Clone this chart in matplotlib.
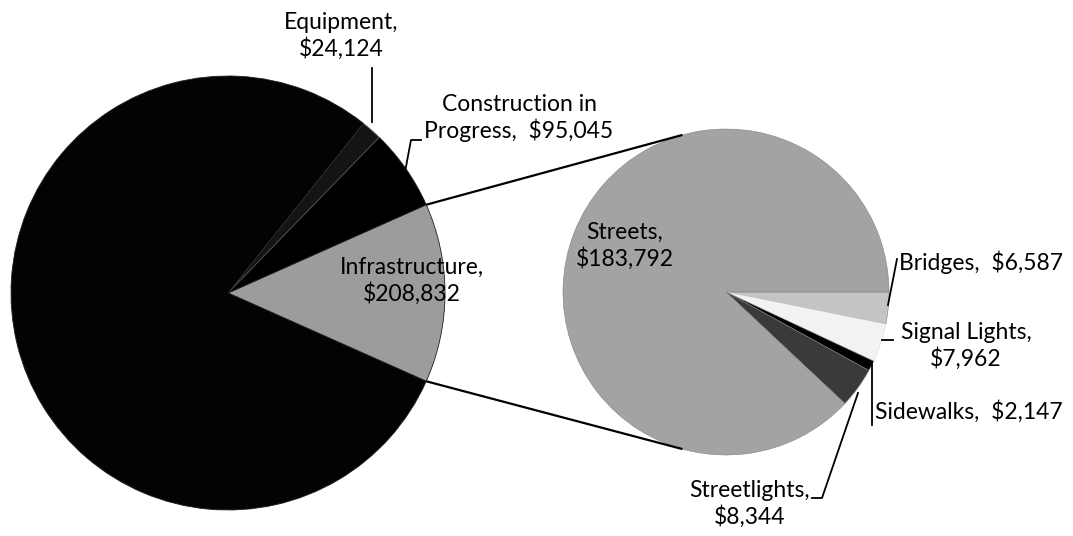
import numpy as np
import matplotlib
matplotlib.use("Agg")
import matplotlib.pyplot as plt

# main pie (the large dark slice label is unreadable in the source)
main_labels = ["Infrastructure", "Construction in Progress", "Equipment", "Other"]
main_values = [208832, 95045, 24124, 1238000]
main_colors = ["#9c9c9c", "#000000", "#141414", "#030303"]

# breakdown of infrastructure
sub_labels = ["Bridges", "Signal Lights", "Sidewalks", "Streetlights", "Streets"]
sub_values = [6587, 7962, 2147, 8344, 183792]
sub_colors = ["#c4c4c4", "#f2f2f2", "#000000", "#3a3a3a", "#a3a3a3"]

W, H = 1073, 536


def py(y):
    # pixel row (top-down) -> data y
    return H - y


fig = plt.figure(figsize=(W / 100, H / 100), dpi=100)
ax = fig.add_axes([0, 0, 1, 1])
plt.rcParams['font.family'] = ['Lato', 'DejaVu Sans']

c1, r1 = (228, py(293)), 217
c2, r2 = (726, py(292)), 163

infra_angle = main_values[0] / sum(main_values) * 360
w1, _ = ax.pie(main_values, radius=r1, center=c1, startangle=-infra_angle / 2,
               colors=main_colors, counterclock=True,
               wedgeprops=dict(linewidth=0.6, edgecolor="#202020"))
w1[2].set_edgecolor("#555555")
w2, _ = ax.pie(sub_values, radius=r2, center=c2, startangle=0,
               colors=sub_colors, counterclock=False,
               wedgeprops=dict(linewidth=0.4, edgecolor="#808080"))
w2[1].set_edgecolor("#dddddd")

# connector lines between the two pies
for th1, th2 in [(w1[0].theta2, 105.5), (w1[0].theta1, -105.5)]:
    a, b = np.radians(th1), np.radians(th2)
    ax.plot([c1[0] + r1 * np.cos(a), c2[0] + r2 * np.cos(b)],
            [c1[1] + r1 * np.sin(a), c2[1] + r2 * np.sin(b)],
            color="black", lw=1.6, solid_capstyle="butt")

fs = 16.5
tk = dict(fontsize=fs, color="black", linespacing=1.2)

ax.text(341, py(36), "Equipment,\n$24,124", ha="center", va="center", **tk)
ax.text(519, py(118), "Construction in\nProgress,  $95,045", ha="center", va="center", **tk)
ax.text(412, py(281), "Infrastructure,\n$208,832", ha="center", va="center", **tk)
ax.text(625, py(246), "Streets,\n$183,792", ha="center", va="center", **tk)
ax.text(899, py(262), "Bridges,  $6,587", ha="left", va="center", **tk)
ax.text(966, py(346), "Signal Lights,\n$7,962", ha="center", va="center", **tk)
ax.text(875, py(412), "Sidewalks,  $2,147", ha="left", va="center", **tk)
ax.text(750, py(504), "Streetlights,\n$8,344", ha="center", va="center", **tk)

# leader lines
leaders = [
    [(372, 68), (372, 122)],
    [(421, 140), (411, 140), (405, 172)],
    [(897, 259), (888, 305)],
    [(893, 340), (882, 340)],
    [(872, 425), (872, 362)],
    [(812, 498), (822, 498), (858, 393)],
]
for pts in leaders:
    xs = [p[0] for p in pts]
    ys = [py(p[1]) for p in pts]
    ax.plot(xs, ys, color="black", lw=1.3)

ax.set_xlim(0, W)
ax.set_ylim(0, H)
ax.set_aspect("equal")
ax.axis("off")

fig.savefig("out.png", dpi=100)
